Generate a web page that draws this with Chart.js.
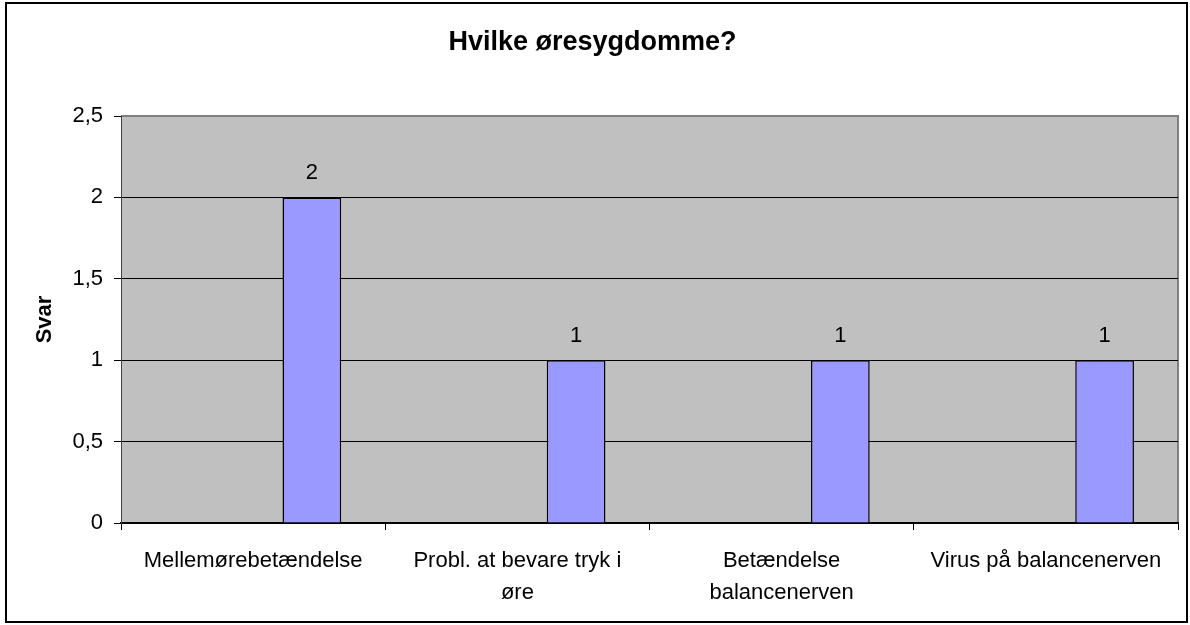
<!DOCTYPE html>
<html>
<head>
<meta charset="utf-8">
<script src="https://cdn.jsdelivr.net/npm/chart.js@4/dist/chart.umd.min.js"></script>
<style>
  html, body { margin: 0; padding: 0; background: #fff; }
  #frame {
    position: absolute; left: 5px; top: 2px;
    width: 1179px; height: 617px;
    border: 2px solid #000;
  }
</style>
</head>
<body>
<div id="frame"><canvas id="chart" width="1179" height="617"></canvas></div>
<script>
// Data
const categories = [
  'Mellemørebetændelse',
  ['Probl. at bevare tryk i', 'øre'],
  ['Betændelse', 'balancenerven'],
  'Virus på balancenerven',
];
const emptySeries = [null, null, null, null];
const svar = [2, 1, 1, 1];
const yTicks = [0, 0.5, 1, 1.5, 2, 2.5];

const FONT = "'Liberation Sans', Arial, sans-serif";

// grey plot area with a grey frame, like the Excel original
const plotArea = {
  id: 'plotArea',
  beforeDraw(chart) {
    const { ctx, chartArea: a } = chart;
    ctx.save();
    ctx.fillStyle = '#c0c0c0';
    ctx.fillRect(a.left, a.top, a.right - a.left, a.bottom - a.top);
    ctx.strokeStyle = '#808080';
    ctx.lineWidth = 2;
    ctx.beginPath();
    ctx.moveTo(a.left, a.top);
    ctx.lineTo(a.right, a.top);
    ctx.lineTo(a.right, a.bottom);
    ctx.stroke();
    ctx.restore();
  },
};

// value labels above the bars
const valueLabels = {
  id: 'valueLabels',
  afterDatasetsDraw(chart) {
    const { ctx } = chart;
    const meta = chart.getDatasetMeta(2);
    ctx.save();
    ctx.fillStyle = '#000';
    ctx.font = `22px ${FONT}`;
    ctx.textAlign = 'center';
    ctx.textBaseline = 'alphabetic';
    meta.data.forEach((bar, i) => {
      ctx.fillText(String(svar[i]), bar.x, bar.y - 18);
    });
    ctx.restore();
  },
};

new Chart(document.getElementById('chart'), {
  type: 'bar',
  data: {
    labels: categories,
    datasets: [
      { data: emptySeries, backgroundColor: '#993366' },
      { data: emptySeries, backgroundColor: '#ffffcc' },
      {
        data: svar,
        backgroundColor: '#9999ff',
        borderColor: '#000',
        borderWidth: 1.5,
      },
    ],
  },
  options: {
    responsive: false,
    animation: false,
    layout: { padding: { left: 0, right: 8, top: 0, bottom: 0 } },
    datasets: {
      bar: { categoryPercentage: 3 / 4.5, barPercentage: 1 },
    },
    scales: {
      x: {
        offset: true,
        grid: {
          drawOnChartArea: false,
          drawTicks: true,
          tickLength: 7,
          color: '#000',
        },
        border: { color: '#000', width: 2 },
        ticks: {
          color: '#000',
          padding: 15,
          maxRotation: 0,
          autoSkip: false,
          font: { family: FONT, size: 22, lineHeight: 1.45 },
        },
        afterFit: (scale) => { scale.height = 98; },
      },
      y: {
        min: 0,
        max: 2.5,
        afterBuildTicks: (scale) => { scale.ticks = yTicks.map(v => ({ value: v })); },
        grid: {
          color: (c) => (c.tick && c.tick.value === 2.5 ? '#808080' : '#000'),
          tickColor: '#000',
          tickLength: 7,
          lineWidth: 1,
        },
        border: { color: '#404040', width: 1 },
        ticks: {
          color: '#000',
          padding: 11,
          font: { family: FONT, size: 22 },
          callback: (v) => String(v).replace('.', ','),
        },
        title: {
          display: true,
          text: 'Svar',
          color: '#000',
          padding: { top: 25, bottom: 0 },
          font: { family: FONT, size: 22, weight: 'bold' },
        },
        afterFit: (scale) => { scale.width = 114; },
      },
    },
    plugins: {
      legend: { display: false },
      tooltip: { enabled: false },
      title: {
        display: true,
        text: 'Hvilke øresygdomme?',
        color: '#000',
        padding: { top: 22, bottom: 57.6 },
        font: { family: FONT, size: 27, weight: 'bold' },
      },
    },
  },
  plugins: [plotArea, valueLabels],
});
</script>
</body>
</html>
